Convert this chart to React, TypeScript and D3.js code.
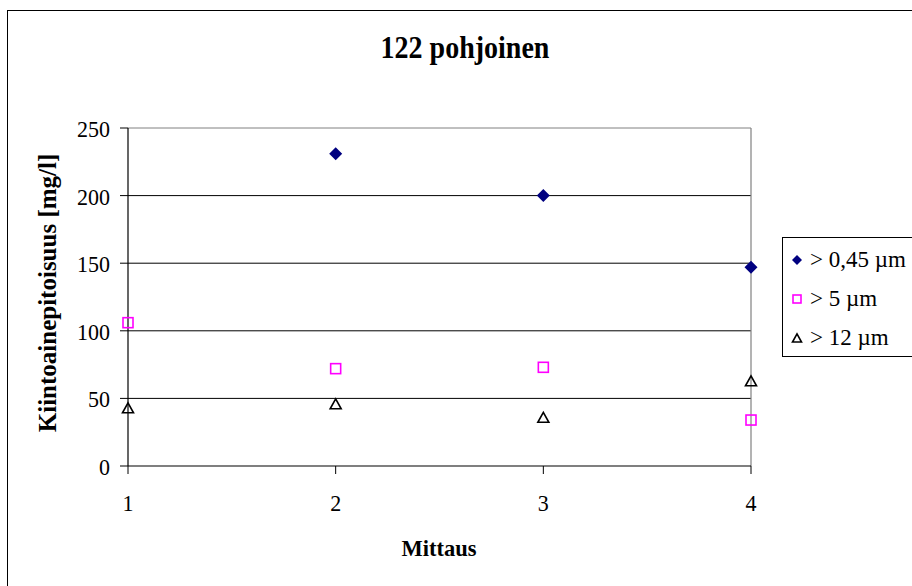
import React from "react";
import * as d3 from "d3";

const measurements = [1, 2, 3, 4];
const over045 = [null, 231, 200, 147];
const over5 = [106, 72, 73, 34];
const over12 = [43, 46, 36, 63];
const yTicks = [0, 50, 100, 150, 200, 250];
const seriesNames = ["> 0,45 µm", "> 5 µm", "> 12 µm"];

const W = 912;
const H = 586;
const FONT = "'Liberation Serif', 'Times New Roman', serif";

const x = d3.scaleLinear().domain([1, 4]).range([128, 751]);
const y = d3.scaleLinear().domain([0, 250]).range([466, 128]);

function Diamond({ cx, cy, r }: { cx: number; cy: number; r: number }) {
  return (
    <path
      d={`M${cx},${cy - r}L${cx + r},${cy}L${cx},${cy + r}L${cx - r},${cy}Z`}
      fill="#000080"
    />
  );
}

function Square({ cx, cy, s }: { cx: number; cy: number; s: number }) {
  return (
    <rect
      x={cx - s / 2}
      y={cy - s / 2}
      width={s}
      height={s}
      fill="none"
      stroke="#FF00FF"
      strokeWidth={1.6}
    />
  );
}

function Triangle({ cx, cy, s }: { cx: number; cy: number; s: number }) {
  const h = s * 0.9;
  return (
    <path
      d={`M${cx},${cy - h / 2}L${cx + s / 2},${cy + h / 2}L${cx - s / 2},${cy + h / 2}Z`}
      fill="none"
      stroke="#000"
      strokeWidth={1.6}
      strokeLinejoin="miter"
    />
  );
}

// Text placed at (tx, ty) with a slight vertical stretch
function Label({
  tx,
  ty,
  sy = 1,
  rotate = 0,
  children,
  ...rest
}: {
  tx: number;
  ty: number;
  sy?: number;
  rotate?: number;
  children: React.ReactNode;
  [k: string]: any;
}) {
  return (
    <text transform={`translate(${tx},${ty}) rotate(${rotate}) scale(1,${sy})`} {...rest}>
      {children}
    </text>
  );
}

export default function App() {
  const [x0, x1] = x.range();
  const [yb, yt] = y.range();
  const legendX = 782;
  const legendY = 237;
  const legendRowY = [260, 299, 338];

  return (
    <svg
      width={W}
      height={H}
      style={{ position: "absolute", left: 0, top: 0, background: "#fff" }}
      fontFamily={FONT}
    >
      <rect x={0} y={0} width={W} height={H} fill="#fff" />
      {/* chart frame */}
      <rect x={7.5} y={10.5} width={930} height={620} fill="none" stroke="#000" strokeWidth={1} />

      {/* title */}
      <Label tx={465} ty={58} sy={1.14} textAnchor="middle" fontSize={28} fontWeight="bold">
        122 pohjoinen
      </Label>

      {/* gridlines */}
      {yTicks.filter((t) => t > 0).map((t) => (
        <line
          key={t}
          x1={x0}
          x2={x1}
          y1={y(t)}
          y2={y(t)}
          stroke={t === 250 ? "#808080" : "#000"}
          strokeWidth={1}
        />
      ))}
      {/* plot area right border */}
      <line x1={x1} x2={x1} y1={yt} y2={yb} stroke="#808080" strokeWidth={1.2} />

      {/* y axis */}
      <line x1={x0} x2={x0} y1={yt} y2={yb} stroke="#000" strokeWidth={1.2} />
      {yTicks.map((t) => (
        <g key={t}>
          <line x1={x0 - 8} x2={x0} y1={y(t)} y2={y(t)} stroke="#000" />
          <Label tx={110} ty={y(t) + 9} sy={1.08} textAnchor="end" fontSize={22}>
            {t}
          </Label>
        </g>
      ))}

      {/* x axis */}
      <line x1={x0} x2={x1} y1={yb} y2={yb} stroke="#000" strokeWidth={1.2} />
      {measurements.map((m) => (
        <g key={m}>
          <line x1={x(m)} x2={x(m)} y1={yb} y2={yb + 8} stroke="#000" />
          <Label tx={x(m)} ty={511} sy={1.08} textAnchor="middle" fontSize={22}>
            {m}
          </Label>
        </g>
      ))}

      {/* axis titles */}
      <Label tx={439} ty={556} textAnchor="middle" fontSize={22.5} fontWeight="bold">
        Mittaus
      </Label>
      <Label
        tx={56}
        ty={(yt + yb) / 2 - 4}
        rotate={-90}
        textAnchor="middle"
        fontSize={25}
        fontWeight="bold"
      >
        Kiintoainepitoisuus [mg/l]
      </Label>

      {/* series */}
      {measurements.map((m, i) =>
        over12[i] != null ? <Triangle key={`t${m}`} cx={x(m)} cy={y(over12[i] as number)} s={11} /> : null
      )}
      {measurements.map((m, i) =>
        over5[i] != null ? <Square key={`s${m}`} cx={x(m)} cy={y(over5[i] as number)} s={10} /> : null
      )}
      {measurements.map((m, i) =>
        over045[i] != null ? <Diamond key={`d${m}`} cx={x(m)} cy={y(over045[i] as number)} r={6.5} /> : null
      )}

      {/* legend */}
      <rect x={legendX + 0.5} y={legendY + 0.5} width={200} height={119} fill="#fff" stroke="#000" />
      <Diamond cx={797} cy={legendRowY[0]} r={5} />
      <Square cx={797} cy={legendRowY[1]} s={8} />
      <Triangle cx={797} cy={legendRowY[2]} s={9} />
      {seriesNames.map((name, i) => (
        <Label key={name} tx={810} ty={legendRowY[i] + 7} sy={1.04} fontSize={23}>
          {name}
        </Label>
      ))}
    </svg>
  );
}
